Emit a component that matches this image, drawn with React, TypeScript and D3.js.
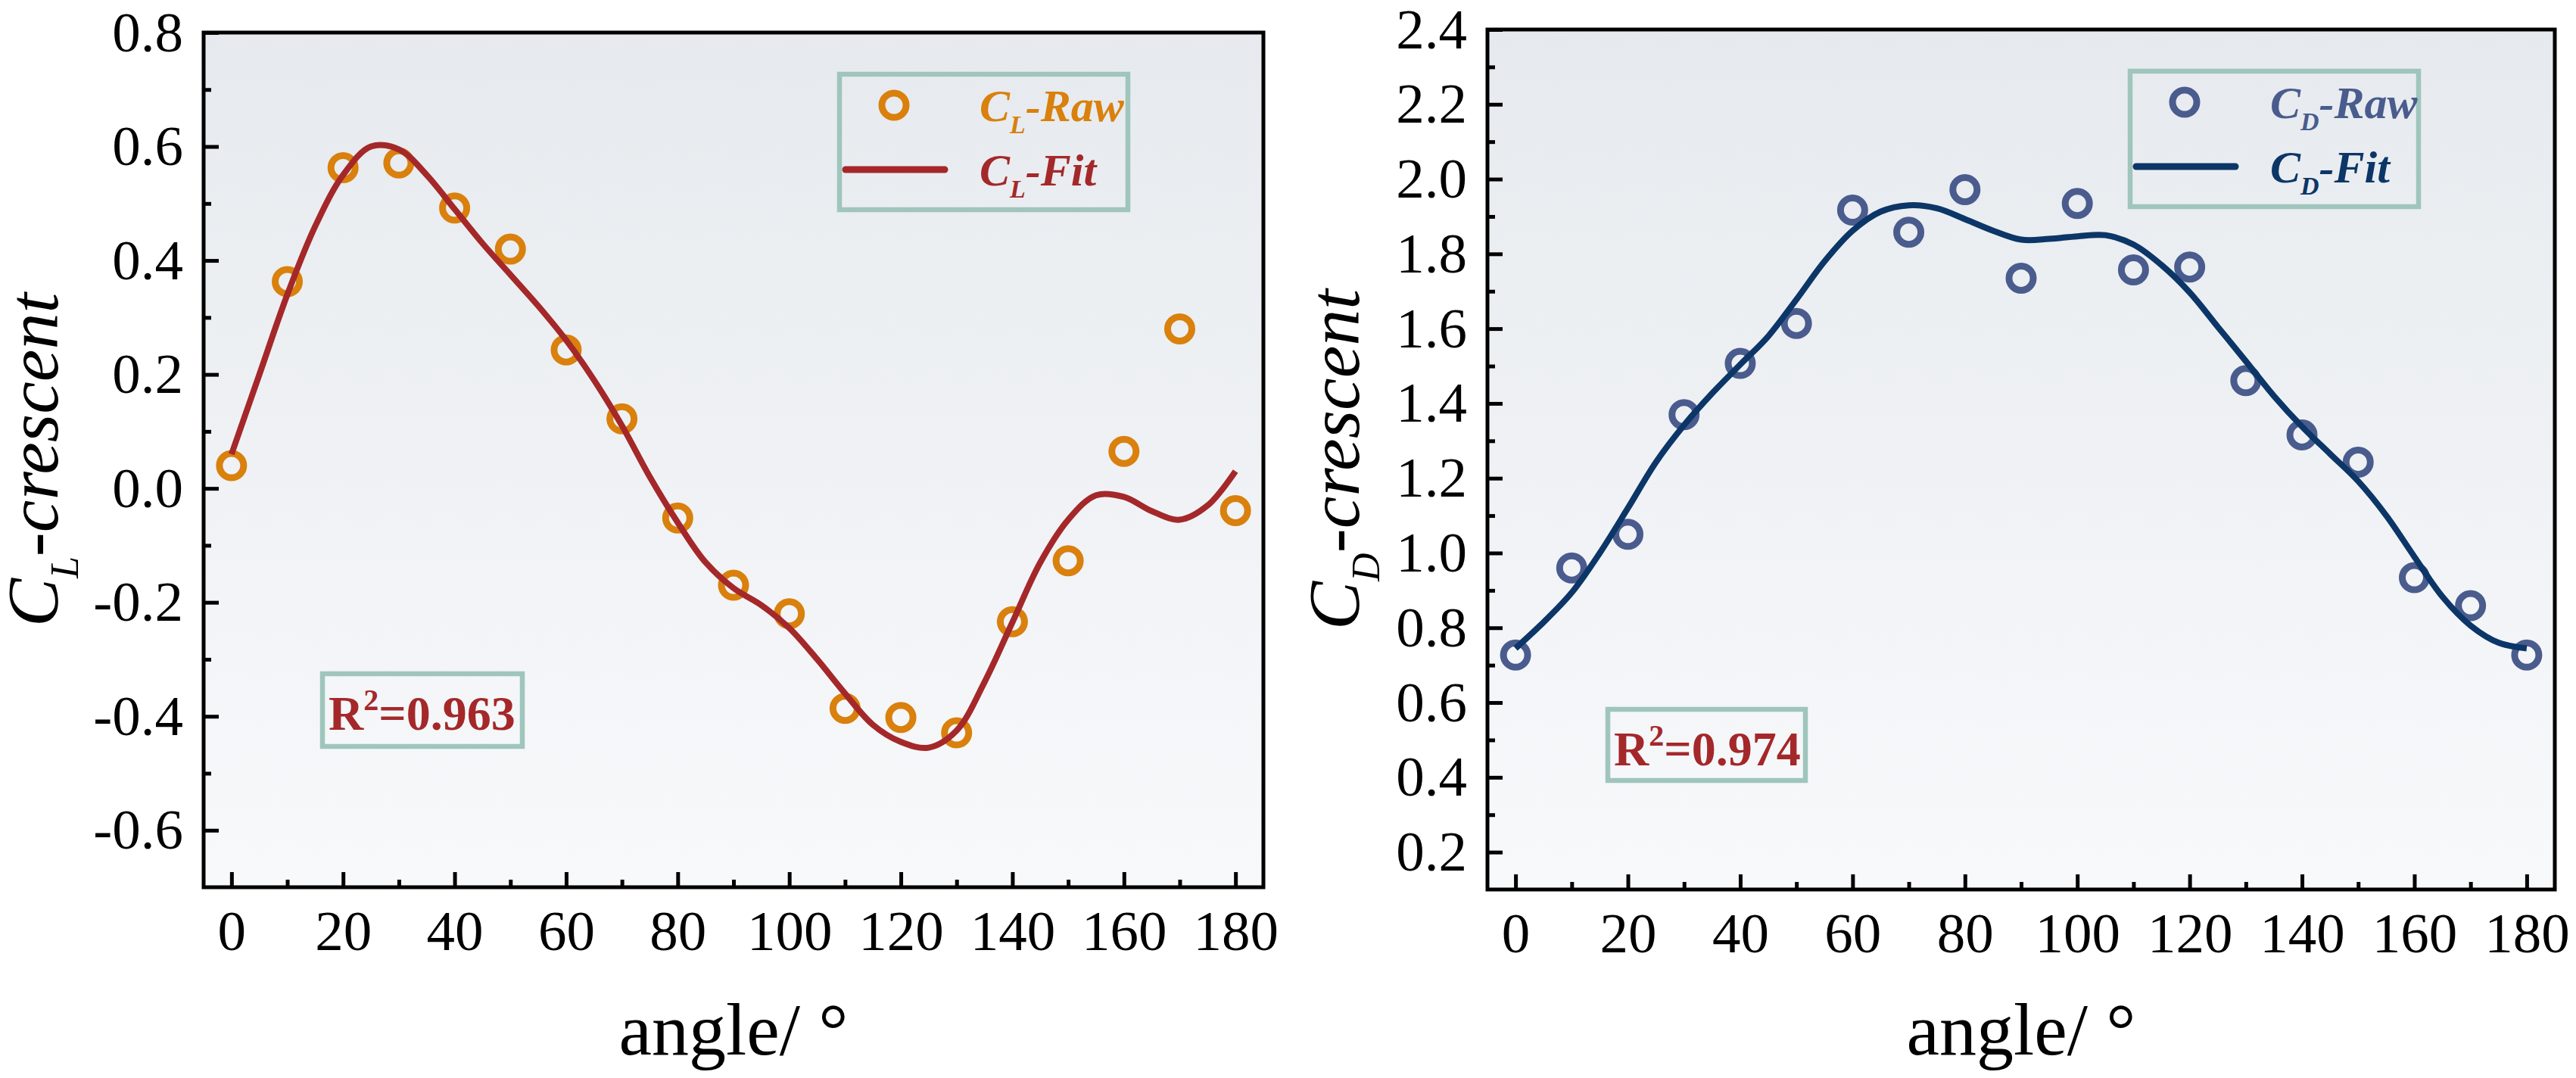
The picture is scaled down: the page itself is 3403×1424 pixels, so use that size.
import { useEffect, useRef } from "react";
import * as d3 from "d3";

// raw samples, every 10 degrees
const angles = [0, 10, 20, 30, 40, 50, 60, 70, 80, 90, 100, 110, 120, 130, 140, 150, 160, 170, 180];
const clRaw = [0.04, 0.363, 0.563, 0.571, 0.492, 0.42, 0.243, 0.122, -0.052, -0.17, -0.22, -0.386, -0.402, -0.429, -0.234, -0.127, 0.065, 0.28, -0.039];
const cdRaw = [0.727, 0.96, 1.05, 1.37, 1.507, 1.614, 1.917, 1.858, 1.972, 1.735, 1.935, 1.757, 1.765, 1.461, 1.316, 1.243, 0.934, 0.859, 0.727];

// fitted curves read every 5 degrees
const fitAngles = [0, 5, 10, 15, 20, 25, 30, 35, 40, 45, 50, 55, 60, 65, 70, 75, 80, 85, 90, 95, 100, 105, 110, 115, 120, 125, 130, 135, 140, 145, 150, 155, 160, 165, 170, 175, 180];
const clFit = [0.06, 0.2, 0.34, 0.46, 0.55, 0.6, 0.595, 0.55, 0.49, 0.43, 0.375, 0.32, 0.26, 0.19, 0.11, 0.02, -0.06, -0.13, -0.175, -0.205, -0.245, -0.3, -0.36, -0.415, -0.445, -0.455, -0.425, -0.34, -0.235, -0.13, -0.055, -0.012, -0.015, -0.04, -0.055, -0.03, 0.03];
const cdFit = [0.745, 0.815, 0.894, 1.0, 1.12, 1.243, 1.342, 1.427, 1.504, 1.58, 1.678, 1.78, 1.862, 1.913, 1.93, 1.922, 1.893, 1.862, 1.838, 1.84, 1.847, 1.85, 1.825, 1.77, 1.697, 1.605, 1.513, 1.42, 1.338, 1.265, 1.192, 1.1, 0.99, 0.883, 0.806, 0.76, 0.745];

// ticks
const angleTicks = [0, 20, 40, 60, 80, 100, 120, 140, 160, 180];
const angleMinor = [10, 30, 50, 70, 90, 110, 130, 150, 170];
const clTicks = [-0.6, -0.4, -0.2, 0.0, 0.2, 0.4, 0.6, 0.8];
const clMinor = [-0.5, -0.3, -0.1, 0.1, 0.3, 0.5, 0.7];
const cdTicks = [0.2, 0.4, 0.6, 0.8, 1.0, 1.2, 1.4, 1.6, 1.8, 2.0, 2.2, 2.4];
const cdMinor = [0.3, 0.5, 0.7, 0.9, 1.1, 1.3, 1.5, 1.7, 1.9, 2.1, 2.3];

const FONT = "'Liberation Serif'";
const BOX = "#9fc5bc";
const R2COLOR = "#a4282a";

interface Panel {
  sub: string;
  raw: number[];
  fit: number[];
  ticks: number[];
  minor: number[];
  yDomain: [number, number];
  rawColor: string;
  fitColor: string;
  r2: string;
  left: number;
  right: number;
  top: number;
  bottom: number;
  titleX: number;
  legend: [number, number];
  r2Box: [number, number, number, number];
}

const panels: Panel[] = [
  {
    sub: "L",
    raw: clRaw,
    fit: clFit,
    ticks: clTicks,
    minor: clMinor,
    yDomain: [-0.7, 0.8],
    rawColor: "#d9800d",
    fitColor: "#a4282a",
    r2: "0.963",
    left: 269,
    right: 1669,
    top: 43,
    bottom: 1172,
    titleX: 76,
    legend: [1106, 95],
    r2Box: [426, 890, 264, 96],
  },
  {
    sub: "D",
    raw: cdRaw,
    fit: cdFit,
    ticks: cdTicks,
    minor: cdMinor,
    yDomain: [0.1, 2.4],
    rawColor: "#4a5c8d",
    fitColor: "#0c3667",
    r2: "0.974",
    left: 1965,
    right: 3375,
    top: 39,
    bottom: 1175,
    titleX: 1795,
    legend: [2811, 91],
    r2Box: [2124, 937, 261, 94],
  },
];

export default function App() {
  const svgRef = useRef<SVGSVGElement>(null);

  useEffect(() => {
    document.body.style.margin = "0";
    if (!svgRef.current) return;
    const svg = d3.select(svgRef.current);
    svg.selectAll("*").remove();

    // background gradient
    const defs = svg.append("defs");
    const grad = defs
      .append("linearGradient")
      .attr("id", "bg")
      .attr("x1", 0)
      .attr("y1", 0)
      .attr("x2", 0)
      .attr("y2", 1);
    grad.append("stop").attr("offset", "0%").attr("stop-color", "#e6eaee");
    grad.append("stop").attr("offset", "100%").attr("stop-color", "#f8f9fb");

    panels.forEach((p) => {
      const x = d3.scaleLinear().domain([-5, 185]).range([p.left, p.right]);
      const y = d3.scaleLinear().domain(p.yDomain).range([p.bottom, p.top]);
      const g = svg.append("g").attr("font-family", FONT);

      g.append("rect")
        .attr("x", p.left)
        .attr("y", p.top)
        .attr("width", p.right - p.left)
        .attr("height", p.bottom - p.top)
        .attr("fill", "url(#bg)");

      const styleAxis = (sel: d3.Selection<SVGGElement, unknown, null, undefined>) => {
        sel.select(".domain").remove();
        sel.selectAll("line").attr("stroke", "#000").attr("stroke-width", 5);
        sel.attr("font-family", FONT).attr("font-size", 75);
        sel.selectAll("text").attr("fill", "#000").attr("font-family", FONT);
      };

      // x ticks (minor first, then major with labels)
      const xMinor = g
        .append("g")
        .attr("transform", `translate(0,${p.bottom})`)
        .call(d3.axisBottom(x).tickValues(angleMinor).tickSize(-10).tickFormat(() => ""));
      styleAxis(xMinor);
      const xMajor = g
        .append("g")
        .attr("transform", `translate(0,${p.bottom})`)
        .call(
          d3
            .axisBottom(x)
            .tickValues(angleTicks)
            .tickSize(-20)
            .tickPadding(30)
            .tickFormat((d) => String(d))
        );
      styleAxis(xMajor);

      // y ticks
      const yMinor = g
        .append("g")
        .attr("transform", `translate(${p.left},0)`)
        .call(d3.axisLeft(y).tickValues(p.minor).tickSize(-10).tickFormat(() => ""));
      styleAxis(yMinor);
      const yMajor = g
        .append("g")
        .attr("transform", `translate(${p.left},0)`)
        .call(
          d3
            .axisLeft(y)
            .tickValues(p.ticks)
            .tickSize(-20)
            .tickPadding(27)
            .tickFormat((d) => (d as number).toFixed(1))
        );
      styleAxis(yMajor);

      // raw markers
      g.append("g")
        .selectAll("circle")
        .data(p.raw)
        .join("circle")
        .attr("cx", (_, i) => x(angles[i]))
        .attr("cy", (d) => y(d))
        .attr("r", 16)
        .attr("fill", "none")
        .attr("stroke", p.rawColor)
        .attr("stroke-width", 9);

      // fit curve
      const line = d3
        .line<number>()
        .x((_, i) => x(fitAngles[i]))
        .y((d) => y(d))
        .curve(d3.curveCatmullRom.alpha(0.5));
      g.append("path")
        .attr("d", line(p.fit))
        .attr("fill", "none")
        .attr("stroke", p.fitColor)
        .attr("stroke-width", 8)
        .attr("stroke-linejoin", "round");

      // frame
      g.append("rect")
        .attr("x", p.left)
        .attr("y", p.top)
        .attr("width", p.right - p.left)
        .attr("height", p.bottom - p.top)
        .attr("fill", "none")
        .attr("stroke", "#000")
        .attr("stroke-width", 5);

      // legend
      const [lx, ly] = p.legend;
      g.append("rect")
        .attr("x", lx + 3)
        .attr("y", ly + 3)
        .attr("width", 381)
        .attr("height", 179)
        .attr("fill", "none")
        .attr("stroke", BOX)
        .attr("stroke-width", 6.5);
      g.append("circle")
        .attr("cx", lx + 75)
        .attr("cy", ly + 44)
        .attr("r", 16)
        .attr("fill", "none")
        .attr("stroke", p.rawColor)
        .attr("stroke-width", 9);
      g.append("line")
        .attr("x1", lx + 11)
        .attr("x2", lx + 142)
        .attr("y1", ly + 129)
        .attr("y2", ly + 129)
        .attr("stroke", p.fitColor)
        .attr("stroke-width", 9)
        .attr("stroke-linecap", "round");
      const legendItems = [
        { label: "Raw", color: p.rawColor, dy: 65 },
        { label: "Fit", color: p.fitColor, dy: 150 },
      ];
      legendItems.forEach((it) => {
        const t = g
          .append("text")
          .attr("x", lx + 188)
          .attr("y", ly + it.dy)
          .attr("font-family", FONT)
          .attr("font-size", 60)
          .attr("font-weight", "bold")
          .attr("font-style", "italic")
          .attr("fill", it.color);
        t.append("tspan").text("C");
        t.append("tspan").attr("font-size", 34).attr("dy", 16).text(p.sub);
        t.append("tspan").attr("dy", -16).text("-" + it.label);
      });

      // R² box
      const [bx, by, bw, bh] = p.r2Box;
      g.append("rect")
        .attr("x", bx)
        .attr("y", by)
        .attr("width", bw)
        .attr("height", bh)
        .attr("fill", "none")
        .attr("stroke", BOX)
        .attr("stroke-width", 6.5);
      const r2 = g
        .append("text")
        .attr("x", bx + 8)
        .attr("y", by + 74)
        .attr("font-family", FONT)
        .attr("font-size", 64)
        .attr("font-weight", "bold")
        .attr("fill", R2COLOR);
      r2.append("tspan").text("R");
      r2.append("tspan").attr("font-size", 40).attr("dy", -26).text("2");
      r2.append("tspan").attr("dy", 26).text("=" + p.r2);

      // y title
      const cy = (p.top + p.bottom) / 2;
      const yt = g
        .append("text")
        .attr("transform", `translate(${p.titleX},${cy}) rotate(-90)`)
        .attr("text-anchor", "middle")
        .attr("font-family", FONT)
        .attr("font-size", 96)
        .attr("font-style", "italic")
        .attr("fill", "#000");
      yt.append("tspan").text("C");
      yt.append("tspan").attr("font-size", 52).attr("dy", 27).text(p.sub);
      yt.append("tspan").attr("dy", -27).text("-crescent");

      // x title
      g.append("text")
        .attr("x", (p.left + p.right) / 2)
        .attr("y", 1393)
        .attr("text-anchor", "middle")
        .attr("font-family", FONT)
        .attr("font-size", 98)
        .attr("fill", "#000")
        .text("angle/ °");
    });
  }, []);

  return (
    <svg
      ref={svgRef}
      width={3403}
      height={1424}
      fontFamily="Liberation Serif"
      style={{ display: "block", background: "#fff" }}
    />
  );
}
